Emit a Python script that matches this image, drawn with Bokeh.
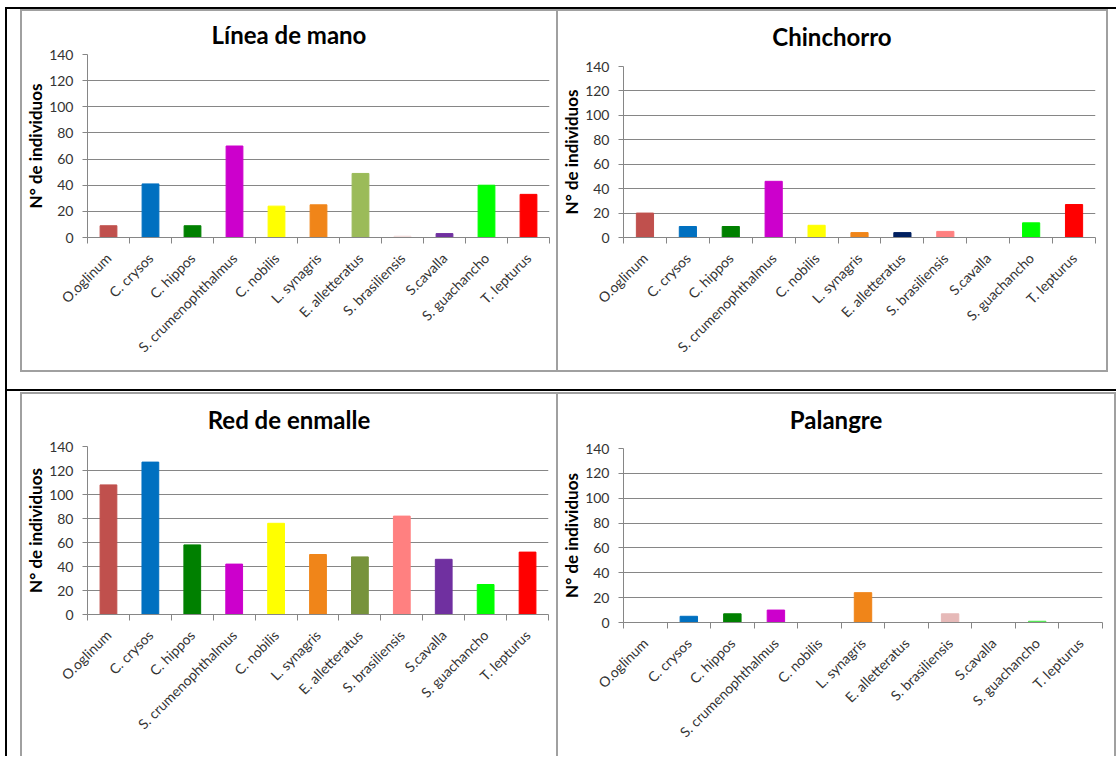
import math
from bokeh.plotting import figure
from bokeh.models import Range1d, FixedTicker, Div, Spacer
from bokeh.layouts import column, row
from bokeh.embed import file_html
from bokeh.resources import INLINE

# ---------------- data ----------------
species = ["O.oglinum", "C. crysos", "C. hippos", "S. crumenophthalmus", "C. nobilis",
           "L. synagris", "E. alletteratus", "S. brasiliensis", "S.cavalla",
           "S. guachancho", "T. lepturus"]

linea_values = [9, 41, 9, 70, 24, 25, 49, 1, 3, 40, 33]
chinchorro_values = [20, 9, 9, 46, 10, 4, 4, 5, 0, 12, 27]
red_values = [108, 127, 58, 42, 76, 50, 48, 82, 46, 25, 52]
palangre_values = [0, 5, 7, 10, 0, 24, 0, 7, 0, 1, 0]

linea_colors = ["#C0504D", "#0070C0", "#008000", "#CC00CC", "#FFFF00", "#F08519",
                "#9BBB59", "#F2DCDB", "#7030A0", "#00FF00", "#FF0000"]
chinchorro_colors = ["#C0504D", "#0070C0", "#008000", "#CC00CC", "#FFFF00", "#F08519",
                     "#002060", "#FF8080", "#7030A0", "#00FF00", "#FF0000"]
red_colors = ["#C0504D", "#0070C0", "#008000", "#CC00CC", "#FFFF00", "#F08519",
              "#77933C", "#FF8080", "#7030A0", "#00FF00", "#FF0000"]
palangre_colors = ["#C0504D", "#0070C0", "#008000", "#CC00CC", "#FFFF00", "#F08519",
                   "#77933C", "#E6B9B8", "#7030A0", "#4CE64C", "#FF0000"]

y_ticks = [0, 20, 40, 60, 80, 100, 120, 140]
titles = ["Línea de mano", "Chinchorro", "Red de enmalle", "Palangre"]
y_label = "N° de individuos"

FONT = "Lato"
GRID = "#868686"
BOXC = "#a0a0a0"


def make_panel(title, values, colors, width, height, left, right, top, bottom,
               title_h, line_h):
    n = len(species)
    centers = [i + 0.5 for i in range(n)]
    bounds = [float(i) for i in range(n + 1)]
    p = figure(width=width, height=height - title_h, output_backend="svg",
               toolbar_location=None,
               x_range=Range1d(0, n), y_range=Range1d(y_ticks[0], y_ticks[-1]),
               min_border_left=left, min_border_right=right,
               min_border_top=top - title_h, min_border_bottom=bottom,
               title=None, margin=0)
    p.vbar(x=centers, top=values, bottom=0, width=0.4, fill_color=colors, line_color=colors)

    p.outline_line_color = None
    p.background_fill_color = "white"
    p.border_fill_color = "white"

    p.xgrid.visible = False
    p.ygrid.grid_line_color = GRID
    p.ygrid.grid_line_width = 1

    xa = p.xaxis[0]
    xa.ticker = FixedTicker(ticks=centers, minor_ticks=bounds)
    xa.major_label_overrides = {c: s for c, s in zip(centers, species)}
    xa.major_tick_in = 0
    xa.major_tick_out = 0
    xa.minor_tick_in = 0
    xa.minor_tick_out = 6
    xa.minor_tick_line_color = GRID
    xa.axis_line_color = GRID
    xa.major_label_orientation = math.pi / 4
    xa.major_label_text_font = FONT
    xa.major_label_text_font_size = "14px"
    xa.major_label_text_color = "#333333"
    xa.major_label_standoff = 12

    ya = p.yaxis[0]
    ya.ticker = FixedTicker(ticks=y_ticks)
    ya.major_tick_in = 0
    ya.major_tick_out = 5
    ya.major_tick_line_color = GRID
    ya.axis_line_color = GRID
    ya.major_label_text_font = FONT
    ya.major_label_text_font_size = "14px"
    ya.major_label_text_color = "#333333"
    ya.major_label_standoff = 9
    ya.axis_label = y_label
    ya.axis_label_text_font = FONT
    ya.axis_label_text_font_style = "bold"
    ya.axis_label_text_font_size = "17px"
    ya.axis_label_text_color = "#000000"
    ya.axis_label_standoff = 0

    head = Div(text=title, width=width, height=title_h, margin=0,
               styles={"font-family": FONT, "font-weight": "bold", "font-size": "24px",
                       "line-height": f"{line_h}px", "text-align": "center",
                       "color": "#000000", "white-space": "nowrap",
                       "overflow": "visible", "background-color": "white"})
    return column(head, p, spacing=0, margin=0)


def bar(w, h, color):
    return Div(text="", width=w, height=h, margin=0, styles={"background-color": color})


def sp(w, h):
    return Spacer(width=w, height=h, margin=0)


p1 = make_panel(titles[0], linea_values, linea_colors, 534, 359, 61, 7, 43, 133, 33, 48)
p2 = make_panel(titles[1], chinchorro_values, chinchorro_colors, 548, 359, 61, 11, 55, 133, 44, 52)
p3 = make_panel(titles[2], red_values, red_colors, 534, 362, 63, 8, 52, 142, 42, 52)
p4 = make_panel(titles[3], palangre_values, palangre_colors, 556, 362, 62, 12, 54, 134, 44, 52)

tl = column(bar(538, 2, BOXC),
            row(bar(2, 359, BOXC), p1, bar(2, 359, BOXC), spacing=0, margin=0),
            bar(538, 2, BOXC), spacing=0, margin=0)
tr = column(bar(550, 2, BOXC),
            row(p2, bar(2, 359, BOXC), spacing=0, margin=0),
            bar(550, 2, BOXC), spacing=0, margin=0)
bl = column(bar(538, 2, BOXC),
            row(bar(2, 362, BOXC), p3, bar(2, 362, BOXC), spacing=0, margin=0),
            spacing=0, margin=0)
br = column(bar(558, 2, BOXC),
            row(p4, bar(2, 362, BOXC), spacing=0, margin=0),
            spacing=0, margin=0)

layout = column(
    sp(1116, 7),
    row(sp(5, 2), bar(1111, 2, "#000000"), spacing=0, margin=0),
    row(sp(5, 380), bar(2, 380, "#000000"), sp(13, 380),
        column(tl, sp(538, 17), spacing=0, margin=0),
        column(tr, sp(550, 17), spacing=0, margin=0), spacing=0, margin=0),
    row(sp(5, 2), bar(1111, 2, "#000000"), spacing=0, margin=0),
    row(sp(5, 365), bar(2, 365, "#000000"), sp(13, 365),
        column(sp(538, 1), bl, spacing=0, margin=0),
        column(sp(558, 1), br, spacing=0, margin=0), spacing=0, margin=0),
    spacing=0, margin=0,
)

open("out.html", "w").write(file_html(layout, INLINE))
